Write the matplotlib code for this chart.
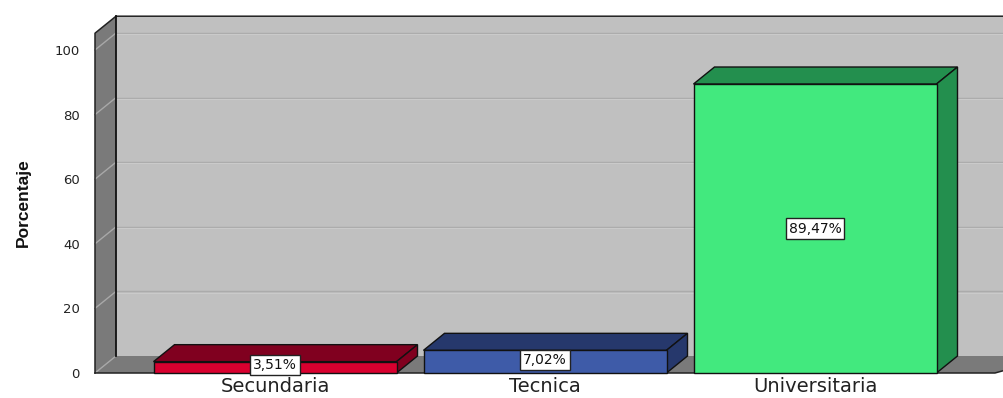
import matplotlib
matplotlib.use("Agg")
import matplotlib.pyplot as plt
from matplotlib.patches import Polygon, Rectangle

# ---- data ----
categories = ["Secundaria", "Tecnica", "Universitaria"]
values = [3.51, 7.02, 89.47]
value_labels = ["3,51%", "7,02%", "89,47%"]
yticks = [0, 20, 40, 60, 80, 100]
ylabel = "Porcentaje"

# ---- style ----
front_colors = ["#D9002F", "#3E5BA8", "#42E97E"]
dark_colors = ["#80001F", "#26386C", "#238F4E"]
back_color = "#C0C0C0"
wall_color = "#7A7A7A"

W, H = 1004, 398
fig = plt.figure(figsize=(W / 100, H / 100), dpi=100)
fig.patch.set_facecolor("white")
# front plane: x from 95 px to 995 px, y0 at 373 px, y100 at 50 px
ax = fig.add_axes([95 / W, (H - 373) / H, 900 / W, 323 / H])
x0, x1 = -2 / 3, 8 / 3
ax.set_xlim(x0, x1)
ax.set_ylim(0, 100)
ax.set_facecolor("none")
for s in ax.spines.values():
    s.set_visible(False)

px_x = (x1 - x0) / 900.0    # data units per pixel (x)
px_y = 100 / 323.0          # data units per pixel (y)
DX = 21 * px_x
DY = 17 * px_y
YTOP = 105.2
XR = x1 + 40 * px_x

kw = dict(clip_on=False)
# back wall
ax.add_patch(Polygon([(x0 + DX, DY), (x0 + DX, YTOP + DY), (XR, YTOP + DY), (XR, DY)],
                     closed=True, facecolor=back_color, edgecolor="none", zorder=0, **kw))
# back gridlines (embossed look)
for t in yticks[1:]:
    ax.plot([x0 + DX, XR], [t + DY, t + DY], color="#ABABAB", lw=1.0, zorder=0.5, **kw)
    ax.plot([x0 + DX, XR], [t + DY - 0.35, t + DY - 0.35], color="#CACACA", lw=0.8, zorder=0.5, **kw)
# side wall
ax.add_patch(Polygon([(x0, 0), (x0, YTOP), (x0 + DX, YTOP + DY), (x0 + DX, DY)],
                     closed=True, facecolor=wall_color, edgecolor="none", zorder=1, **kw))
# floor
ax.add_patch(Polygon([(x0, 0), (x0 + DX, DY), (XR + DX, DY), (x1, 0)],
                     closed=True, facecolor=wall_color, edgecolor="none", zorder=1, **kw))
for t in yticks:
    ax.plot([x0, x0 + DX], [t, t + DY], color="#A8A8A8", lw=1.0, zorder=1.2, **kw)
# outlines
ax.plot([x0, x0, x0 + DX, XR], [0, YTOP, YTOP + DY, YTOP + DY], color="#222222", lw=1.1, zorder=1.5, **kw)
ax.plot([x0 + DX, x0 + DX], [DY, YTOP + DY], color="#111111", lw=1.3, zorder=1.5, **kw)
ax.plot([x0, x1, XR + DX], [0, 0, DY], color="#222222", lw=1.1, zorder=1.5, **kw)

# bars
bw = 0.9
for i, (v, fc, dc, lab) in enumerate(zip(values, front_colors, dark_colors, value_labels)):
    l, r = i - bw / 2, i + bw / 2
    ax.add_patch(Polygon([(l, v), (l + DX, v + DY), (r + DX, v + DY), (r, v)], closed=True,
                         facecolor=dc, edgecolor="#111111", lw=1.0, zorder=3, **kw))
    ax.add_patch(Polygon([(r, 0), (r + DX, DY), (r + DX, v + DY), (r, v)], closed=True,
                         facecolor=dc, edgecolor="#111111", lw=1.0, zorder=3, **kw))
    ax.add_patch(Rectangle((l, 0), bw, v, facecolor=fc, edgecolor="#111111", lw=1.0, zorder=4, **kw))
    ax.text(i, v / 2 + (0.6 if v < 10 else 0), lab, ha="center", va="center", fontsize=10,
            family="DejaVu Sans", color="#111111", zorder=6,
            bbox=dict(boxstyle="square,pad=0.22", facecolor="white", edgecolor="#222222", lw=1.0))

ax.set_yticks(yticks)
ax.set_yticklabels([str(t) for t in yticks], fontsize=9.5, family="DejaVu Sans", color="#222222")
ax.set_xticks(range(len(categories)))
ax.set_xticklabels(categories, fontsize=14, family="DejaVu Sans", color="#222222")
ax.tick_params(axis="y", length=0, pad=11)
ax.tick_params(axis="x", length=0, pad=3)

fig.text(23 / W, 1 - 203 / H, ylabel, rotation=90, ha="center", va="center",
         fontsize=12.5, fontweight="bold", family="Liberation Sans", color="#111111")

fig.savefig("out.png", dpi=100, facecolor="white")
